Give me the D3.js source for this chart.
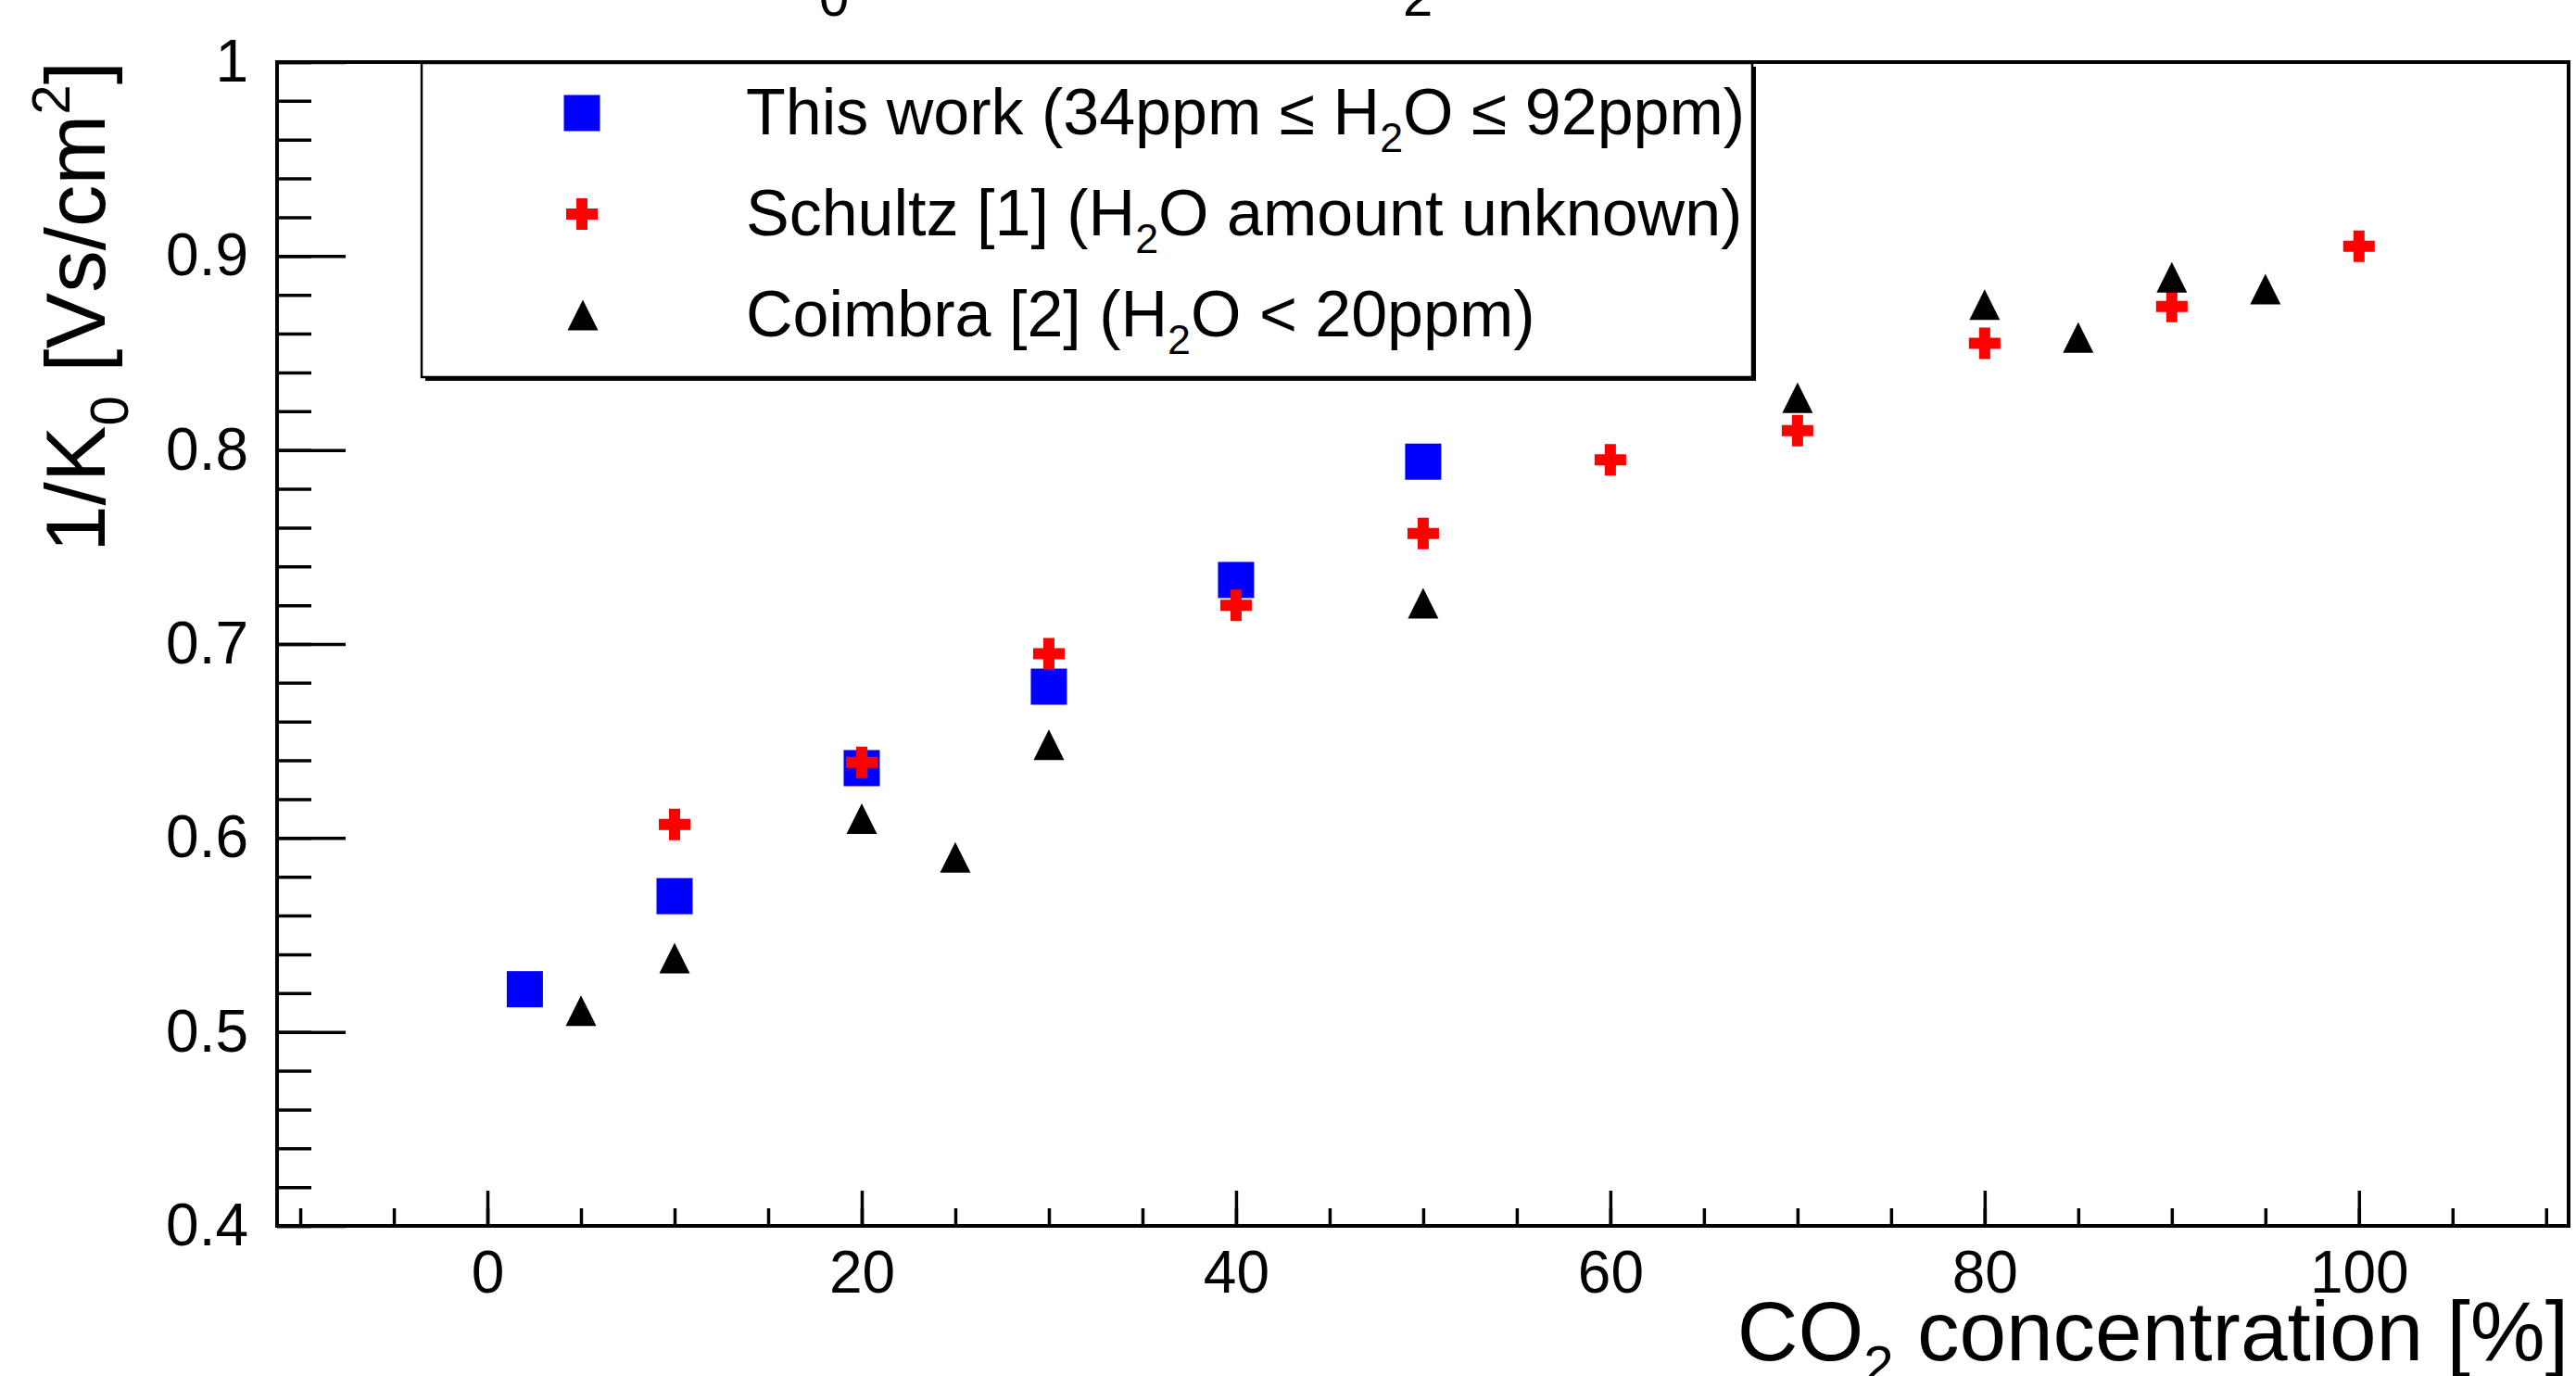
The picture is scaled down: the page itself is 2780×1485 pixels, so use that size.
<!DOCTYPE html>
<html>
<head>
<meta charset="utf-8">
<script src="https://cdn.jsdelivr.net/npm/d3@7"></script>
<style>
  body { margin: 0; background: #fff; }
  svg { display: block; font-family: "Liberation Sans", Arial, Helvetica, sans-serif; }
</style>
</head>
<body>
<div id="chart"></div>
<script>
// data
const thisWorkX = [2, 10, 20, 30, 40, 50];
const thisWorkY = [0.522, 0.570, 0.636, 0.678, 0.733, 0.794];

const schultzX = [10, 20, 30, 40, 50, 60, 70, 80, 90, 100];
const schultzY = [0.607, 0.639, 0.695, 0.720, 0.757, 0.795, 0.810, 0.855, 0.874, 0.905];

const coimbraX = [5, 10, 20, 25, 30, 50, 70, 80, 85, 90, 95];
const coimbraY = [0.511, 0.538, 0.610, 0.590, 0.648, 0.721, 0.827, 0.875, 0.858, 0.889, 0.883];

const xTicks = [0, 20, 40, 60, 80, 100];
const yTicks = [0.4, 0.5, 0.6, 0.7, 0.8, 0.9, 1.0];
const yTickLabels = ["0.4", "0.5", "0.6", "0.7", "0.8", "0.9", "1"];

const legendLabels = [
  "This work (34ppm \u2264 H_{2}O \u2264 92ppm)",
  "Schultz [1] (H_{2}O amount unknown)",
  "Coimbra [2] (H_{2}O < 20ppm)",
];

const W = 2780,
  H = 1485;
const margin = { top: 67, right: 8, bottom: 162, left: 299 };
const width = W - margin.left - margin.right;
const height = H - margin.top - margin.bottom;

let svg = d3
  .select("#chart")
  .append("svg")
  .attr("width", W)
  .attr("height", H);

svg.append("rect").attr("width", W).attr("height", H).attr("fill", "#fff");

let g = svg
  .append("g")
  .attr("transform", "translate(" + margin.left + "," + margin.top + ")");

let x = d3.scaleLinear().domain([-11.24, 111.2]).range([0, width]);
let y = d3.scaleLinear().domain([0.4, 1.0]).range([height, 0]);

// ROOT style text: _{..} subscripts, ^{..} superscripts
function latex(text, str, fs) {
  const re = /([_^])\{([^}]*)\}/g;
  let last = 0,
    shift = 0,
    m;
  while ((m = re.exec(str))) {
    if (m.index > last) {
      text.append("tspan").attr("dy", -shift).text(str.slice(last, m.index));
      shift = 0;
    }
    const s = m[1] === "_" ? 0.27 * fs : -0.42 * fs;
    text
      .append("tspan")
      .attr("font-size", 0.64 * fs)
      .attr("dy", s - shift)
      .text(m[2]);
    shift = s;
    last = re.lastIndex;
  }
  if (last < str.length) {
    text.append("tspan").attr("dy", -shift).text(str.slice(last));
  }
}

function crossPath(s, t) {
  const a = s / 2,
    b = t / 2;
  return (
    "M" + -a + "," + -b + "H" + -b + "V" + -a + "H" + b + "V" + -b +
    "H" + a + "V" + b + "H" + b + "V" + a + "H" + -b + "V" + b + "H" + -a + "Z"
  );
}

function trianglePath(w, h) {
  return "M0," + -h / 2 + "L" + w / 2 + "," + h / 2 + "L" + -w / 2 + "," + h / 2 + "Z";
}

// axes (ticks point inward like ROOT)
function styleAxis(sel) {
  sel.select(".domain").remove();
  sel.selectAll(".tick line").attr("stroke", "#000").attr("stroke-width", 3.5);
  sel.selectAll("text").attr("font-size", 64).attr("font-family", null).attr("fill", "#000");
}

g.append("g")
  .attr("class", "x-axis")
  .attr("transform", "translate(0," + height + ")")
  .call(d3.axisBottom(x).tickValues(d3.range(-10, 111, 5)).tickSize(-19).tickFormat(""))
  .call(styleAxis);

g.append("g")
  .attr("class", "x-axis")
  .attr("transform", "translate(0," + height + ")")
  .call(d3.axisBottom(x).tickValues(xTicks).tickSize(-38).tickPadding(27).tickFormat(d3.format("d")))
  .call(styleAxis);

g.append("g")
  .attr("class", "y-axis")
  .call(d3.axisLeft(y).tickValues(d3.range(0, 31).map((i) => 0.4 + i * 0.02)).tickSize(-37).tickFormat(""))
  .call(styleAxis);

g.append("g")
  .attr("class", "y-axis")
  .call(
    d3.axisLeft(y)
      .tickValues(yTicks)
      .tickSize(-74)
      .tickPadding(31)
      .tickFormat((d, i) => yTickLabels[i])
  )
  .call(styleAxis);

// frame
g.append("rect")
  .attr("width", width)
  .attr("height", height)
  .attr("fill", "none")
  .attr("stroke", "#000")
  .attr("stroke-width", 4);

// markers
const thisWork = thisWorkX.map((v, i) => ({ x: v, y: thisWorkY[i] }));
const schultz = schultzX.map((v, i) => ({ x: v, y: schultzY[i] }));
const coimbra = coimbraX.map((v, i) => ({ x: v, y: coimbraY[i] }));

const sq = 39;
g.selectAll(".this-work")
  .data(thisWork)
  .join("rect")
  .attr("class", "this-work")
  .attr("x", (d) => x(d.x) - sq / 2)
  .attr("y", (d) => y(d.y) - sq / 2)
  .attr("width", sq)
  .attr("height", sq)
  .attr("fill", "#0000ff");

g.selectAll(".schultz")
  .data(schultz)
  .join("path")
  .attr("class", "schultz")
  .attr("transform", (d) => "translate(" + x(d.x) + "," + y(d.y) + ")")
  .attr("d", crossPath(34, 12))
  .attr("fill", "#ff0000");

g.selectAll(".coimbra")
  .data(coimbra)
  .join("path")
  .attr("class", "coimbra")
  .attr("transform", (d) => "translate(" + x(d.x) + "," + y(d.y) + ")")
  .attr("d", trianglePath(33, 33))
  .attr("fill", "#000");

// legend
const lg = svg.append("g").attr("class", "legend").attr("transform", "translate(455,68)");
const lw = 1436,
  lh = 339;
lg.append("rect").attr("x", 4).attr("y", 4).attr("width", lw).attr("height", lh).attr("fill", "#000");
lg.append("rect")
  .attr("width", lw)
  .attr("height", lh)
  .attr("fill", "#fff")
  .attr("stroke", "#000")
  .attr("stroke-width", 2.5);

const rowY = (i) => 54 + i * 109;
lg.append("rect").attr("x", 173 - sq / 2).attr("y", rowY(0) - sq / 2).attr("width", sq).attr("height", sq).attr("fill", "#0000ff");
lg.append("path").attr("transform", "translate(173," + rowY(1) + ")").attr("d", crossPath(34, 12)).attr("fill", "#ff0000");
lg.append("path").attr("transform", "translate(174," + rowY(2) + ")").attr("d", trianglePath(33, 33)).attr("fill", "#000");

legendLabels.forEach((s, i) => {
  const t = lg.append("text").attr("x", 350).attr("y", rowY(i) + 23).attr("font-size", 70);
  latex(t, s, 70);
});

// axis titles
const xt = svg
  .append("text")
  .attr("x", margin.left + width)
  .attr("y", 1468)
  .attr("text-anchor", "end")
  .attr("font-size", 91);
latex(xt, "CO_{2} concentration [%]", 91);

const yt = svg
  .append("text")
  .attr("transform", "translate(113," + 66 + ") rotate(-90)")
  .attr("text-anchor", "end")
  .attr("font-size", 91);
latex(yt, "1/K_{0} [Vs/cm^{2}]", 91);

// title, cut off by the top edge: only its subscripts show
const title = svg.append("g").attr("class", "chart-title").attr("font-size", 91);
title.append("text").attr("x", 884).attr("y", -8).attr("text-anchor", "end").text("1/K");
title.append("text").attr("x", 884).attr("y", 17).attr("font-size", 58).text("0");
title.append("text").attr("x", 1514).attr("y", -8).attr("text-anchor", "end").text("CO");
title.append("text").attr("x", 1514).attr("y", 17).attr("font-size", 58).text("2");
</script>
</body>
</html>
